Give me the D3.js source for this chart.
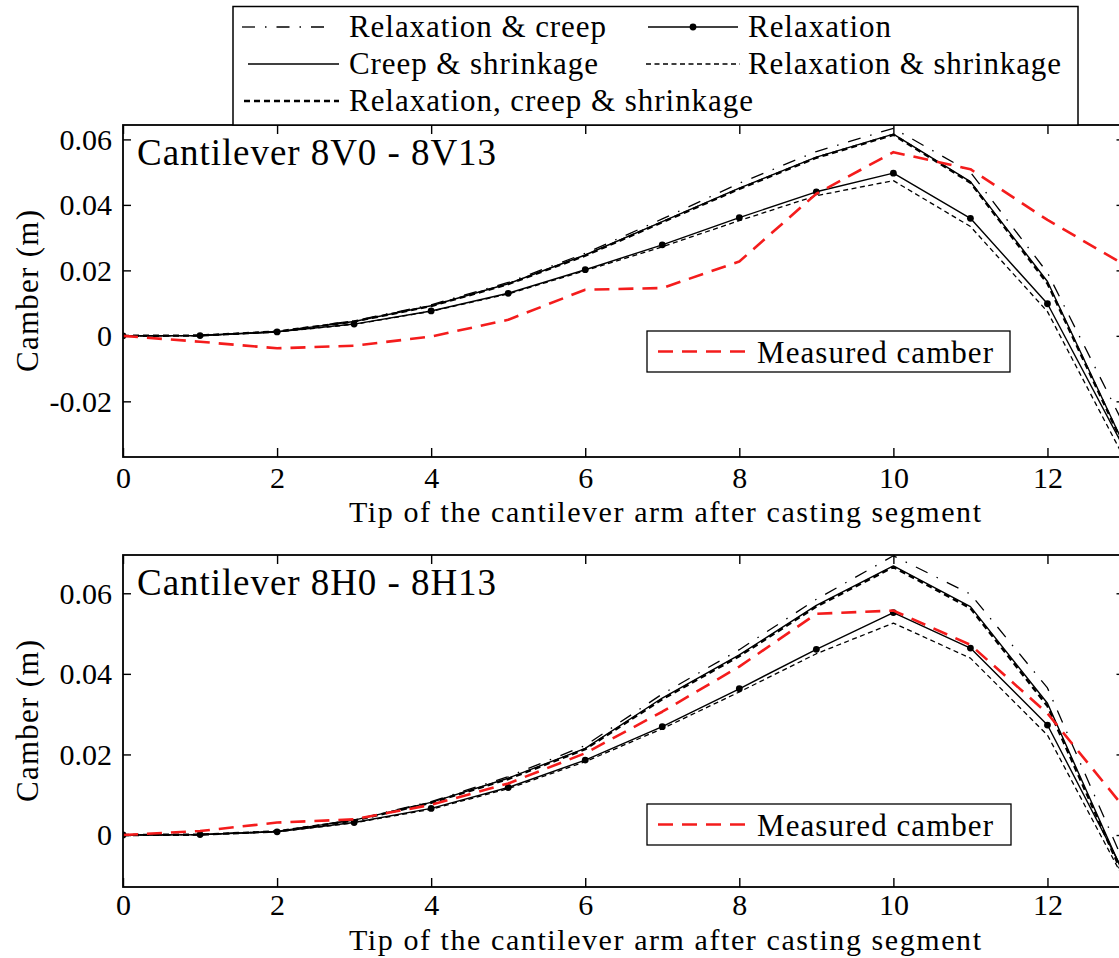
<!DOCTYPE html>
<html>
<head>
<meta charset="utf-8">
<script src="https://cdn.jsdelivr.net/npm/d3@7"></script>
<style>
  body { margin: 0; background: #fff; }
  svg text { font-family: "Liberation Serif", serif; fill: #000; }
</style>
</head>
<body>
<svg id="chart" width="1119" height="958"></svg>
<script>
// Casting segment index at which the cantilever tip is measured
const segments = [0, 1, 2, 3, 4, 5, 6, 7, 8, 9, 10, 11, 12, 13];
const xTickValues = [0, 2, 4, 6, 8, 10, 12];

// Cantilever 8V0 - 8V13 : camber (m)
const v8_relaxCreep      = [0, 0.0001, 0.0013, 0.0046, 0.0095, 0.0163, 0.0252, 0.0357, 0.0466, 0.0563, 0.0634, 0.0500, 0.0193, -0.0275];
const v8_relaxation      = [0, 0.0001, 0.0012, 0.0036, 0.0076, 0.0130, 0.0202, 0.0278, 0.0361, 0.0440, 0.0497, 0.0359, 0.0098, -0.0345];
const v8_creepShrink     = [0, 0.0001, 0.0013, 0.0044, 0.0092, 0.0159, 0.0247, 0.0349, 0.0451, 0.0546, 0.0616, 0.0471, 0.0166, -0.0336];
const v8_relaxShrink     = [0, 0.0001, 0.0012, 0.0035, 0.0075, 0.0128, 0.0199, 0.0272, 0.0352, 0.0428, 0.0474, 0.0334, 0.0074, -0.0375];
const v8_relaxCreepShr   = [0, 0.0001, 0.0013, 0.0044, 0.0091, 0.0158, 0.0245, 0.0347, 0.0449, 0.0544, 0.0614, 0.0468, 0.0160, -0.0340];
const v8_measured        = [0, -0.0018, -0.0038, -0.0030, -0.0002, 0.0049, 0.0141, 0.0146, 0.0227, 0.0434, 0.0561, 0.0509, 0.0354, 0.0217];

// Cantilever 8H0 - 8H13 : camber (m)
const h8_relaxCreep      = [0, 0.0001, 0.0009, 0.0038, 0.0083, 0.0145, 0.0222, 0.0350, 0.0460, 0.0585, 0.0693, 0.0598, 0.0365, -0.0072];
const h8_relaxation      = [0, 0.0001, 0.0008, 0.0031, 0.0066, 0.0118, 0.0186, 0.0269, 0.0363, 0.0461, 0.0552, 0.0464, 0.0273, -0.0095];
const h8_creepShrink     = [0, 0.0001, 0.0009, 0.0037, 0.0081, 0.0141, 0.0215, 0.0340, 0.0447, 0.0570, 0.0668, 0.0567, 0.0327, -0.0102];
const h8_relaxShrink     = [0, 0.0001, 0.0008, 0.0030, 0.0064, 0.0115, 0.0182, 0.0264, 0.0355, 0.0450, 0.0526, 0.0439, 0.0248, -0.0112];
const h8_relaxCreepShr   = [0, 0.0001, 0.0009, 0.0036, 0.0080, 0.0139, 0.0213, 0.0337, 0.0444, 0.0567, 0.0665, 0.0563, 0.0320, -0.0108];
const h8_measured        = [0, 0.0010, 0.0031, 0.0039, 0.0075, 0.0128, 0.0203, 0.0306, 0.0418, 0.0549, 0.0557, 0.0472, 0.0302, 0.0067];

const seriesNames = {
  relaxCreep: "Relaxation & creep",
  relaxation: "Relaxation",
  creepShrink: "Creep & shrinkage",
  relaxShrink: "Relaxation & shrinkage",
  relaxCreepShr: "Relaxation, creep & shrinkage",
  measured: "Measured camber"
};
const panelTitles = ["Cantilever 8V0 - 8V13", "Cantilever 8H0 - 8H13"];
const yTickSets = [[-0.02, 0, 0.02, 0.04, 0.06], [0, 0.02, 0.04, 0.06]];
const xAxisTitle = "Tip of the cantilever arm after casting segment";
const yAxisTitle = "Camber (m)";

const FONT = "Liberation Serif";

// line styles per series
const styles = {
  relaxCreep:    { stroke: "#000", width: 1.3, dash: "13,10,1.5,10" },
  creepShrink:   { stroke: "#000", width: 1.4, dash: null },
  relaxShrink:   { stroke: "#000", width: 1.3, dash: "5,3.5" },
  relaxation:    { stroke: "#000", width: 1.4, dash: null, marker: true },
  relaxCreepShr: { stroke: "#000", width: 2.4, dash: "6,4" },
  measured:      { stroke: "#f41c1c", width: 2.6, dash: "15,9" }
};
const drawOrder = ["relaxCreep", "creepShrink", "relaxShrink", "relaxation", "relaxCreepShr", "measured"];

const svg = d3.select("#chart");
svg.append("rect").attr("width", 1119).attr("height", 958).attr("fill", "#fff");

const plotLeft = 123, plotRight = 1124.5;
const x = d3.scaleLinear().domain([0, 13]).range([plotLeft, plotRight]);

const panels = [
  {
    title: panelTitles[0], top: 125, bottom: 457, yDomain: [-0.037, 0.0644], yTicks: yTickSets[0],
    series: { relaxCreep: v8_relaxCreep, relaxation: v8_relaxation, creepShrink: v8_creepShrink,
              relaxShrink: v8_relaxShrink, relaxCreepShr: v8_relaxCreepShr, measured: v8_measured },
    titleY: 165, xTickY: 488, xTitleY: 522, box: { x: 647, y: 331, w: 363, h: 41 }
  },
  {
    title: panelTitles[1], top: 555, bottom: 887, yDomain: [-0.0129, 0.0695], yTicks: yTickSets[1],
    series: { relaxCreep: h8_relaxCreep, relaxation: h8_relaxation, creepShrink: h8_creepShrink,
              relaxShrink: h8_relaxShrink, relaxCreepShr: h8_relaxCreepShr, measured: h8_measured },
    titleY: 595, xTickY: 915, xTitleY: 950, box: { x: 647, y: 804, w: 364, h: 41 }
  }
];

const yFormat = v => v === 0 ? "0" : v.toFixed(2);

function fitText(sel, width) {
  return sel.attr("font-family", FONT).attr("textLength", width).attr("lengthAdjust", "spacing");
}

panels.forEach((p, i) => {
  const y = d3.scaleLinear().domain(p.yDomain).range([p.bottom, p.top]);
  const g = svg.append("g");
  const clipId = "clip" + i;
  svg.append("clipPath").attr("id", clipId)
    .append("rect").attr("x", plotLeft).attr("y", p.top)
    .attr("width", plotRight - plotLeft).attr("height", p.bottom - p.top);

  // axes: labelled left and bottom, mirrored ticks on top and right
  const axL = g.append("g").attr("transform", `translate(${plotLeft},0)`)
    .call(d3.axisLeft(y).tickValues(p.yTicks).tickFormat(yFormat).tickSize(-8).tickSizeOuter(0).tickPadding(11));
  const axR = g.append("g").attr("transform", `translate(${plotRight},0)`)
    .call(d3.axisRight(y).tickValues(p.yTicks).tickFormat("").tickSize(-8).tickSizeOuter(0));
  const axB = g.append("g").attr("transform", `translate(0,${p.bottom})`)
    .call(d3.axisBottom(x).tickValues(xTickValues).tickFormat(d3.format("d")).tickSize(-9).tickSizeOuter(0).tickPadding(14));
  const axT = g.append("g").attr("transform", `translate(0,${p.top})`)
    .call(d3.axisTop(x).tickValues(xTickValues).tickFormat("").tickSize(-9).tickSizeOuter(0));
  [axL, axR, axB, axT].forEach(a => {
    a.attr("font-family", FONT);
    a.select(".domain").remove();
    a.selectAll(".tick line").attr("stroke", "#000").attr("stroke-width", 1.4);
    a.selectAll("text").attr("font-size", 30).attr("font-family", FONT).attr("fill", "#000");
  });
  axL.selectAll("text").attr("dy", "0.33em");
  axB.selectAll("text").attr("dy", null).attr("y", p.xTickY - p.bottom);

  // series
  const lines = g.append("g").attr("clip-path", `url(#${clipId})`);
  drawOrder.forEach(key => {
    const vals = p.series[key];
    const st = styles[key];
    const pts = segments.map((s, k) => [s, vals[k]]);
    const line = d3.line().x(d => x(d[0])).y(d => y(d[1]));
    lines.append("path").datum(pts)
      .attr("d", line)
      .attr("fill", "none")
      .attr("stroke", st.stroke)
      .attr("stroke-width", st.width)
      .attr("stroke-dasharray", st.dash)
      .attr("stroke-linejoin", "round");
    if (st.marker) {
      lines.selectAll(null).data(pts).enter().append("circle")
        .attr("cx", d => x(d[0])).attr("cy", d => y(d[1])).attr("r", 3.4).attr("fill", "#000");
    }
  });

  // frame
  g.append("rect").attr("x", plotLeft).attr("y", p.top)
    .attr("width", plotRight - plotLeft).attr("height", p.bottom - p.top)
    .attr("fill", "none").attr("stroke", "#000").attr("stroke-width", 1.8);

  // panel title
  fitText(g.append("text").attr("x", 137).attr("y", p.titleY).attr("font-size", 37).text(p.title), 359);

  // measured camber legend
  const b = p.box;
  g.append("rect").attr("x", b.x).attr("y", b.y).attr("width", b.w).attr("height", b.h)
    .attr("fill", "#fff").attr("stroke", "#000").attr("stroke-width", 1.3);
  const ly = b.y + b.h / 2;
  g.append("line").attr("x1", b.x + 11).attr("x2", b.x + 100).attr("y1", ly).attr("y2", ly)
    .attr("stroke", styles.measured.stroke).attr("stroke-width", styles.measured.width)
    .attr("stroke-dasharray", styles.measured.dash);
  fitText(g.append("text").attr("x", b.x + 110).attr("y", ly + 11).attr("font-size", 31).text(seriesNames.measured), 236);

  // axis titles
  fitText(g.append("text").attr("x", 665).attr("y", p.xTitleY).attr("text-anchor", "middle")
    .attr("font-size", 30).text(xAxisTitle), 632);
  const cy = (p.top + p.bottom) / 2;
  fitText(g.append("text").attr("transform", `translate(38,${cy}) rotate(-90)`).attr("text-anchor", "middle")
    .attr("font-size", 31).text(yAxisTitle), 162);
});

// series legend at the top
const lg = svg.append("g");
lg.append("rect").attr("x", 233).attr("y", 6.5).attr("width", 845).attr("height", 118.5)
  .attr("fill", "#fff").attr("stroke", "#000").attr("stroke-width", 1.5);
const legendItems = [
  { key: "relaxCreep",    x1: 242, x2: 330, tx: 349, row: 0, w: 257 },
  { key: "relaxation",    x1: 648, x2: 738, tx: 748, row: 0, w: 143 },
  { key: "creepShrink",   x1: 248, x2: 339, tx: 349, row: 1, w: 249 },
  { key: "relaxShrink",   x1: 646, x2: 740, tx: 748, row: 1, w: 313 },
  { key: "relaxCreepShr", x1: 244, x2: 339, tx: 349, row: 2, w: 404 }
];
const rowY = [27, 64, 101];
legendItems.forEach(it => {
  const st = styles[it.key];
  const yy = rowY[it.row];
  lg.append("line").attr("x1", it.x1).attr("x2", it.x2).attr("y1", yy).attr("y2", yy)
    .attr("stroke", st.stroke).attr("stroke-width", st.width).attr("stroke-dasharray", st.dash);
  if (st.marker) {
    lg.append("circle").attr("cx", (it.x1 + it.x2) / 2).attr("cy", yy).attr("r", 3.4).attr("fill", "#000");
  }
  fitText(lg.append("text").attr("x", it.tx).attr("y", yy + 10).attr("font-size", 31).text(seriesNames[it.key]), it.w);
});
</script>
</body>
</html>
